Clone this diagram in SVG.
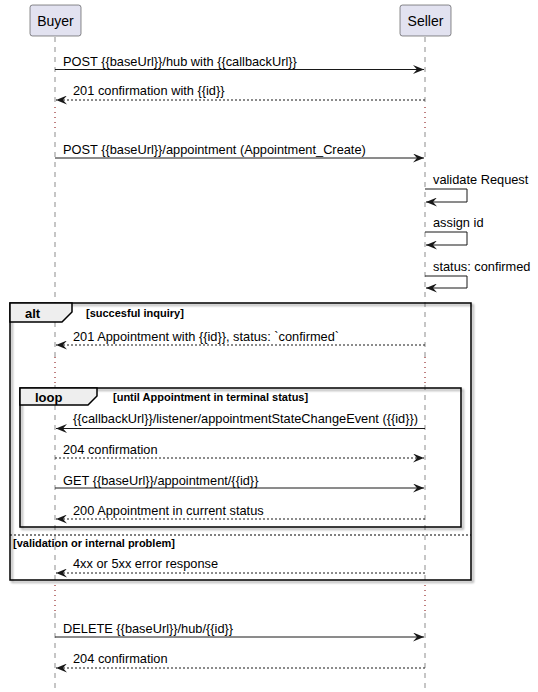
<svg xmlns="http://www.w3.org/2000/svg" width="538" height="692" viewBox="0 0 538 692">
<style>
.bg{fill:#ffffff}
.part rect{fill:#E2E2F0;stroke:#181818;stroke-width:0.5}
.pt{font-family:"Liberation Sans",Arial,sans-serif;font-size:14px;fill:#000}
.life{stroke:#181818;stroke-width:0.5;stroke-dasharray:5,5;fill:none}
.delay{stroke:#800000;stroke-width:1;stroke-dasharray:1,4;fill:none}
.msg{stroke:#181818;stroke-width:1;fill:none}
.ret{stroke:#181818;stroke-width:1;fill:none;stroke-dasharray:2,2}
.mt{font-family:"Liberation Sans",Arial,sans-serif;font-size:12.8px;fill:#000}
.frame{fill:none;stroke:#000;stroke-width:1.5}
.tab{fill:#EEEEEE;stroke:#000;stroke-width:1.5}
.ft{font-family:"Liberation Sans",Arial,sans-serif;font-size:13px;font-weight:bold;fill:#000}
.gt{font-family:"Liberation Sans",Arial,sans-serif;font-size:11px;font-weight:bold;fill:#000}
.sep{stroke:#000;stroke-width:1;stroke-dasharray:2,2;fill:none}
</style>
<defs>
<filter id="sh" x="-5%" y="-5%" width="110%" height="110%">
<feGaussianBlur in="SourceAlpha" stdDeviation="1"/>
<feOffset dx="2" dy="2" result="b"/>
<feComponentTransfer><feFuncA type="linear" slope="0.4"/></feComponentTransfer>
<feMerge><feMergeNode/><feMergeNode in="SourceGraphic"/></feMerge>
</filter>
<marker id="ah" viewBox="0 0 11 9" refX="11" refY="4.5" markerWidth="11" markerHeight="9" markerUnits="userSpaceOnUse" orient="auto-start-reverse">
<polygon points="0,0 11,4.5 0,9 4,4.5" fill="#181818"/>
</marker>
</defs>
<rect class="bg" x="0" y="0" width="538" height="692"/>

<g id="lifelines">
<path class="life" d="M55,37 V107 M55,132 V357 M55,385 V585 M55,613 V688"/>
<path class="delay" d="M55,107 V132 M55,357 V385 M55,585 V613"/>
<path class="life" d="M425,37 V107 M425,132 V357 M425,385 V585 M425,613 V688"/>
<path class="delay" d="M425,107 V132 M425,357 V385 M425,585 V613"/>
</g>

<g id="Buyer" class="part">
<rect x="30" y="5" width="51" height="31" rx="2.5"/>
<text class="pt" x="55.5" y="25.5" text-anchor="middle">Buyer</text>
</g>
<g id="Seller" class="part">
<rect x="400" y="5" width="51" height="31" rx="2.5"/>
<text class="pt" x="425.5" y="25.5" text-anchor="middle">Seller</text>
</g>

<g id="frame-alt">
<rect class="frame" x="10" y="303" width="461" height="277" filter="url(#sh)"/>
<path class="tab" d="M10,303 H72 V312 L62,322 H10 Z"/>
<text class="ft" x="25" y="318">alt</text>
<text class="gt" x="86" y="317">[succesful inquiry]</text>
<line class="sep" x1="10" y1="535" x2="471" y2="535"/>
<text class="gt" x="13" y="547">[validation or internal problem]</text>
</g>

<g id="frame-loop">
<rect class="frame" x="20" y="388" width="441" height="139" filter="url(#sh)"/>
<path class="tab" d="M20,388 H97 V396 L88,405 H20 Z"/>
<text class="ft" x="35" y="402">loop</text>
<text class="gt" x="113" y="401">[until Appointment in terminal status]</text>
</g>

<g id="connectors">
<line class="msg" x1="55" y1="69.5" x2="424" y2="69.5" marker-end="url(#ah)"/>
<text class="mt" x="63" y="66">POST {{baseUrl}}/hub with {{callbackUrl}}</text>

<line class="ret" x1="425" y1="100" x2="56" y2="100" marker-end="url(#ah)"/>
<text class="mt" x="73" y="95">201 confirmation with {{id}}</text>

<line class="msg" x1="55" y1="158" x2="424" y2="158" marker-end="url(#ah)"/>
<text class="mt" x="63" y="154">POST {{baseUrl}}/appointment (Appointment_Create)</text>

<path class="msg" d="M425,189 H467 V202 H426" marker-end="url(#ah)"/>
<text class="mt" x="433" y="184">validate Request</text>

<path class="msg" d="M425,232 H467 V245 H426" marker-end="url(#ah)"/>
<text class="mt" x="433" y="227">assign id</text>

<path class="msg" d="M425,276 H467 V288 H426" marker-end="url(#ah)"/>
<text class="mt" x="433" y="271">status: confirmed</text>

<line class="ret" x1="425" y1="345" x2="56" y2="345" marker-end="url(#ah)"/>
<text class="mt" x="73" y="341">201 Appointment with {{id}}, status: `confirmed`</text>

<line class="msg" x1="425" y1="428.5" x2="56" y2="428.5" marker-end="url(#ah)"/>
<text class="mt" x="73" y="423">{{callbackUrl}}/listener/appointmentStateChangeEvent ({{id}})</text>

<line class="ret" x1="55" y1="458" x2="424" y2="458" marker-end="url(#ah)"/>
<text class="mt" x="63" y="454">204 confirmation</text>

<line class="msg" x1="55" y1="488" x2="424" y2="488" marker-end="url(#ah)"/>
<text class="mt" x="63" y="485">GET {{baseUrl}}/appointment/{{id}}</text>

<line class="ret" x1="425" y1="519" x2="56" y2="519" marker-end="url(#ah)"/>
<text class="mt" x="73" y="515">200 Appointment in current status</text>

<line class="ret" x1="425" y1="573" x2="56" y2="573" marker-end="url(#ah)"/>
<text class="mt" x="73" y="568">4xx or 5xx error response</text>

<line class="msg" x1="55" y1="637" x2="424" y2="637" marker-end="url(#ah)"/>
<text class="mt" x="63" y="633">DELETE {{baseUrl}}/hub/{{id}}</text>

<line class="ret" x1="425" y1="668" x2="56" y2="668" marker-end="url(#ah)"/>
<text class="mt" x="73" y="663">204 confirmation</text>
</g>
</svg>
